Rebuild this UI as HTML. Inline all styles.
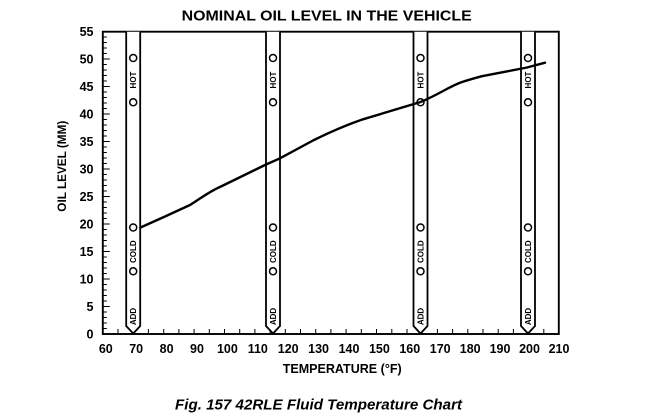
<!DOCTYPE html>
<html><head><meta charset="utf-8"><style>
html,body{margin:0;padding:0;background:#fff;}
svg{display:block;}
text{font-family:"Liberation Sans",Arial,sans-serif;font-weight:bold;fill:#000;}
</style></head><body>
<svg width="650" height="416" viewBox="0 0 650 416" xmlns="http://www.w3.org/2000/svg">
<rect width="650" height="416" fill="#fff"/>
<!-- title -->
<text x="181.7" y="20.7" font-size="14.5" textLength="290" lengthAdjust="spacingAndGlyphs">NOMINAL OIL LEVEL IN THE VEHICLE</text>
<!-- frame -->
<rect x="102.8" y="31.7" width="456" height="302.3" fill="none" stroke="#000" stroke-width="1.9"/>
<!-- y ticks -->
<g stroke="#000" stroke-width="1">
<path d="M102.8 328.5h4M102.8 323h4M102.8 317.5h4M102.8 312h4M102.8 301h4M102.8 295.5h4M102.8 290h4M102.8 284.5h4M102.8 273.5h4M102.8 268h4M102.8 262.5h4M102.8 257h4M102.8 246h4M102.8 240.5h4M102.8 235h4M102.8 229.5h4M102.8 218.5h4M102.8 213h4M102.8 207.5h4M102.8 202h4M102.8 191h4M102.8 185.5h4M102.8 180h4M102.8 174.5h4M102.8 163.5h4M102.8 158h4M102.8 152.5h4M102.8 147h4M102.8 136h4M102.8 130.5h4M102.8 125h4M102.8 119.5h4M102.8 108.5h4M102.8 103h4M102.8 97.5h4M102.8 92h4M102.8 81h4M102.8 75.5h4M102.8 70h4M102.8 64.5h4M102.8 53.5h4M102.8 48h4M102.8 42.5h4M102.8 37h4"/>
<path d="M102.8 306.5h7M102.8 279h7M102.8 251.5h7M102.8 224h7M102.8 196.5h7M102.8 169h7M102.8 141.5h7M102.8 114h7M102.8 86.5h7M102.8 59h7"/>
</g>
<!-- x ticks every 5 deg -->
<g stroke="#000" stroke-width="1">
<path d="M118 334v-5M133.2 334v-5M148.4 334v-5M163.7 334v-5M178.9 334v-5M194.1 334v-5M209.3 334v-5M224.5 334v-5M239.7 334v-5M254.9 334v-5M270.1 334v-5M285.3 334v-5M300.5 334v-5M315.7 334v-5M330.9 334v-5M346.1 334v-5M361.3 334v-5M376.5 334v-5M391.8 334v-5M407 334v-5M422.2 334v-5M437.4 334v-5M452.6 334v-5M467.8 334v-5M483 334v-5M498.2 334v-5M513.4 334v-5M528.6 334v-5M543.8 334v-5"/>
</g>
<!-- y labels -->
<g font-size="12.5" text-anchor="end">
<text x="93.5" y="338.5">0</text>
<text x="93.5" y="311">5</text>
<text x="93.5" y="283.5">10</text>
<text x="93.5" y="256">15</text>
<text x="93.5" y="228.5">20</text>
<text x="93.5" y="201">25</text>
<text x="93.5" y="173.5">30</text>
<text x="93.5" y="146">35</text>
<text x="93.5" y="118.5">40</text>
<text x="93.5" y="91">45</text>
<text x="93.5" y="63.5">50</text>
<text x="93.5" y="36">55</text>
</g>
<!-- x labels -->
<g font-size="12.5" text-anchor="middle">
<text x="105.8" y="353">60</text>
<text x="136.2" y="353">70</text>
<text x="166.6" y="353">80</text>
<text x="197" y="353">90</text>
<text x="227.4" y="353">100</text>
<text x="257.8" y="353">110</text>
<text x="288.2" y="353">120</text>
<text x="318.6" y="353">130</text>
<text x="349" y="353">140</text>
<text x="379.4" y="353">150</text>
<text x="409.8" y="353">160</text>
<text x="440.2" y="353">170</text>
<text x="470.2" y="353">180</text>
<text x="500" y="353">190</text>
<text x="529.5" y="353">200</text>
<text x="559" y="353">210</text>
</g>
<!-- axis titles -->
<text x="282.7" y="373" font-size="13" textLength="119" lengthAdjust="spacingAndGlyphs">TEMPERATURE (°F)</text>
<text transform="translate(66.2,211.7) rotate(-90)" x="0" y="0" font-size="12.2" textLength="91" lengthAdjust="spacingAndGlyphs">OIL LEVEL (MM)</text>
<!-- strips -->
<g fill="#fff" stroke="#000" stroke-width="1.8" stroke-linejoin="miter">
<path d="M126.2 31.7V326L133.2 333.5L140.2 326V31.7"/>
<path d="M266 31.7V326L273 333.5L280 326V31.7"/>
<path d="M413.5 31.7V326L420.5 333.5L427.5 326V31.7"/>
<path d="M521 31.7V326L528 333.5L535 326V31.7"/>
</g>
<!-- circles -->
<g fill="none" stroke="#000" stroke-width="1.5">
<circle cx="133.2" cy="58" r="3.5"/><circle cx="133.2" cy="102.3" r="3.5"/><circle cx="133.2" cy="227.5" r="3.5"/><circle cx="133.2" cy="271.3" r="3.5"/>
<circle cx="273" cy="58" r="3.5"/><circle cx="273" cy="102.3" r="3.5"/><circle cx="273" cy="227.5" r="3.5"/><circle cx="273" cy="271.3" r="3.5"/>
<circle cx="420.5" cy="58" r="3.5"/><circle cx="420.5" cy="102.3" r="3.5"/><circle cx="420.5" cy="227.5" r="3.5"/><circle cx="420.5" cy="271.3" r="3.5"/>
<circle cx="528" cy="58" r="3.5"/><circle cx="528" cy="102.3" r="3.5"/><circle cx="528" cy="227.5" r="3.5"/><circle cx="528" cy="271.3" r="3.5"/>
</g>
<!-- strip labels -->
<g font-size="8" text-anchor="middle">
<text transform="translate(136.1,80) rotate(-90)">HOT</text>
<text transform="translate(136.1,251.7) rotate(-90)">COLD</text>
<text transform="translate(136.1,316.5) rotate(-90)">ADD</text>
<text transform="translate(275.9,80) rotate(-90)">HOT</text>
<text transform="translate(275.9,251.7) rotate(-90)">COLD</text>
<text transform="translate(275.9,316.5) rotate(-90)">ADD</text>
<text transform="translate(423.4,80) rotate(-90)">HOT</text>
<text transform="translate(423.4,251.7) rotate(-90)">COLD</text>
<text transform="translate(423.4,316.5) rotate(-90)">ADD</text>
<text transform="translate(530.9,80) rotate(-90)">HOT</text>
<text transform="translate(530.9,251.7) rotate(-90)">COLD</text>
<text transform="translate(530.9,316.5) rotate(-90)">ADD</text>
</g>
<!-- curve -->
<path d="M140.5 227.5 L165 216.5 L190 205 C200 199 208 192 222 186 L265 165 L280 158.3 L313 140.5 C330 132 345 125.5 363 119.3 L420.5 102 C440 94 448 87 462 82 C470 79.5 475 78 482 76.2 L527 67.5 L545 62.7" fill="none" stroke="#000" stroke-width="2.4" stroke-linejoin="round" stroke-linecap="round"/>
<!-- caption -->
<text x="175" y="409.5" font-size="15" font-style="italic" textLength="287" lengthAdjust="spacingAndGlyphs">Fig. 157 42RLE Fluid Temperature Chart</text>
</svg>
</body></html>
